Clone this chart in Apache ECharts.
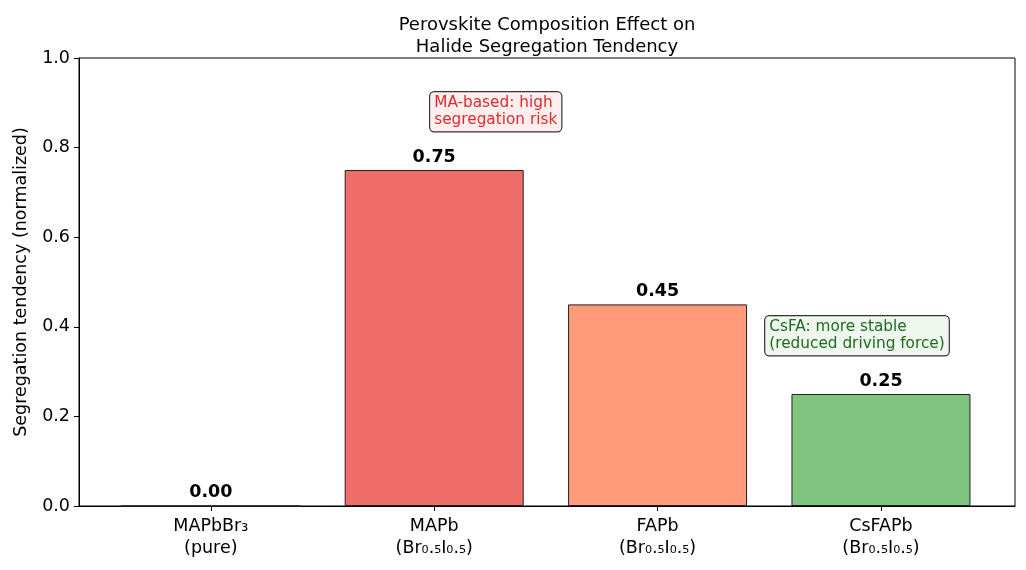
<!DOCTYPE html>
<html><head><meta charset="utf-8">
<script src="https://cdn.jsdelivr.net/npm/echarts@6/dist/echarts.min.js"></script>
<style>html,body{margin:0;padding:0;background:#fff}#c{width:1026px;height:570px}</style>
</head><body><div id="c"></div>
<script>
const categories = ['MAPbBr₃\n(pure)', 'MAPb\n(Br₀.₅I₀.₅)', 'FAPb\n(Br₀.₅I₀.₅)', 'CsFAPb\n(Br₀.₅I₀.₅)'];
const values = [0.00, 0.75, 0.45, 0.25];
const barColors = ['#6a8fc8', '#f06e6a', '#ff9a7a', '#7fc47f'];
const yTicks = [0, 0.2, 0.4, 0.6, 0.8, 1.0];
const annotations = [
  {text: 'MA-based: high\nsegregation risk', x: 1.0, y: 0.88, color: '#dd2a2a', bg: '#ffeeee'},
  {text: 'CsFA: more stable\n(reduced driving force)', x: 2.5, y: 0.38, color: '#1d6b1d', bg: '#eef6ee'}
];
const font = 'DejaVu Sans';
const chart = echarts.init(document.getElementById('c'));
chart.setOption({
  animation: false,
  textStyle: {fontFamily: font},
  title: {
    text: 'Perovskite Composition Effect on\nHalide Segregation Tendency',
    left: 542, top: 9, textAlign: 'center',
    textStyle: {fontFamily: font, fontSize: 18, fontWeight: 'normal', color: '#000', lineHeight: 22}
  },
  grid: {left: 79, right: 11, top: 58, bottom: 64, show: true, borderColor: '#000', borderWidth: 1,
         backgroundColor: 'transparent', outerBoundsMode: 'none', containLabel: false},
  xAxis: {
    type: 'value', min: -0.59, max: 3.6,
    splitLine: {show: false},
    axisLine: {show: true, onZero: false, lineStyle: {color: '#000'}},
    axisTick: {show: true, length: 5, lineStyle: {color: '#000'}, customValues: [0, 1, 2, 3]},
    axisLabel: {
      customValues: [0, 1, 2, 3], color: '#000', fontSize: 17.5, lineHeight: 22, margin: 9,
      fontFamily: font,
      formatter: v => categories[Math.round(v)]
    }
  },
  yAxis: {
    type: 'value', min: 0, max: 1, interval: 0.2,
    name: 'Segregation tendency (normalized)', nameLocation: 'middle', nameGap: 49,
    nameTextStyle: {fontSize: 17.5, color: '#000', fontFamily: font},
    splitLine: {show: false},
    axisLine: {show: true, onZero: false, lineStyle: {color: '#000'}},
    axisTick: {show: true, length: 5, lineStyle: {color: '#000'}},
    axisLabel: {color: '#000', fontSize: 17.5, margin: 9, fontFamily: font, formatter: v => v.toFixed(1)}
  },
  series: [{
    type: 'bar',
    barWidth: 179,
    data: values.map((v, i) => ({
      value: [i, v],
      itemStyle: {color: barColors[i], borderColor: '#222', borderWidth: 1}
    })),
    label: {
      show: true, position: 'top', distance: 4, color: '#000', fontWeight: 'bold', fontSize: 17.5, fontFamily: font,
      formatter: p => p.value[1].toFixed(2)
    },
    markPoint: {
      symbol: 'circle', symbolSize: 0, silent: true,
      data: annotations.map(a => ({
        coord: [a.x, a.y],
        label: {
          show: true, position: 'right', distance: -4, formatter: a.text,
          color: a.color, fontSize: 15.3, lineHeight: 16.5, fontFamily: font,
          backgroundColor: a.bg, borderColor: '#333', borderWidth: 1.2, borderRadius: 4,
          padding: [3, 4, 3, 4], align: 'left'
        }
      }))
    }
  }]
});
</script></body></html>
